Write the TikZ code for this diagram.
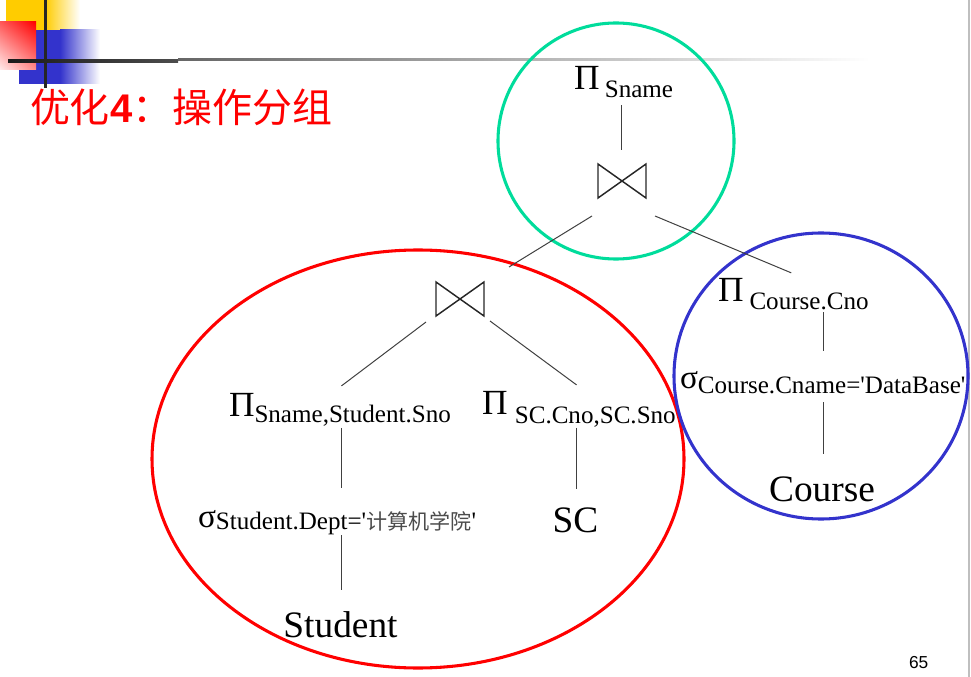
\documentclass[tikz,border=0pt]{standalone}
\usepackage{fontspec}
\setmainfont{Liberation Serif}
\newfontfamily\cjk{Noto Sans CJK SC}
\newfontfamily\sansf{Liberation Sans}
\usetikzlibrary{calc,shadings}
\definecolor{ringgreen}{RGB}{0,220,155}
\definecolor{ringblue}{RGB}{51,51,204}
\definecolor{decoyellow}{RGB}{255,204,0}
\definecolor{decoblue}{RGB}{51,51,204}
\newcommand{\myPi}{{\fontsize{26.5pt}{26.5pt}\selectfont Π}}
\newcommand{\mySig}{{\fontsize{25pt}{25pt}\selectfont σ}}
\newcommand{\mysubtxt}[2]{\raisebox{-#1}{\fontsize{18.8pt}{18.8pt}\selectfont #2}}
\newcommand{\q}{\textquotesingle}
\begin{document}
\begin{tikzpicture}[x=0.75pt,y=-0.75pt,
  lbl/.style={inner sep=0pt, outer sep=0pt, anchor=base west},
  big/.style={inner sep=0pt, outer sep=0pt, anchor=base, font=\fontsize{28pt}{28pt}\selectfont},
  edge/.style={draw=black!75, line width=0.75pt},
  joinbox/.style={minimum width=36pt, minimum height=25.5pt, inner sep=0pt, outer sep=0pt},
  bowline/.style={draw=black!85, line width=1.1pt, line join=miter},
  ring/.style={line width=2.3pt}]
\useasboundingbox (0,0) rectangle (971,677);
% slide decoration
\fill[decoyellow] (6,0) rectangle (45,30);
\shade[left color=decoyellow, right color=white] (45,0) rectangle (80,30);
\fill[decoblue] (19,30) rectangle (60,84);
\shade[left color=decoblue, right color=white] (60,30) rectangle (100,84);
\shade[upper right=red, upper left=red!65, lower right=red!45, lower left=red!8] (0,22) rectangle (36,70);
\fill[black!85] (44,0) rectangle (47,88);
\shade[left color=black!90, right color=black!70] (8,59.5) rectangle (178,62.5);
\shade[left color=black!60, right color=white] (178,59) rectangle (870,60.3);
\fill[black!25] (968,0) rectangle (969.5,677);
% title
\node[lbl, text=red] (title) at (30,123) {\fontsize{30pt}{30pt}\selectfont\cjk 优化{\sansf\bfseries 4}：操作分组};
% groups
\draw[ring, ringgreen] (616,141) circle [radius=118];
\draw[ring, red] (418,459) ellipse [x radius=266, y radius=209];
\draw[ring, ringblue] (821,376) ellipse [x radius=147, y radius=143];
% tree nodes
\node[lbl] (pisname) at (574,90) {\myPi\hspace{4pt}\mysubtxt{6pt}{Sname}};
\node[joinbox] (j1) at (622,181) {};
\node[joinbox] (j2) at (460,299) {};
\node[lbl] (pileft) at (229,416) {\myPi\mysubtxt{4.5pt}{Sname,Student.Sno}};
\node[lbl] (sigleft) at (198,527) {\mySig\mysubtxt{1.5pt}{Student.Dept=\q{\cjk\fontsize{15.8pt}{15.8pt}\selectfont\color{black!70}计算机学院}\q}};
\node[big] (student) at (340.5,637) {Student};
\node[lbl] (pisc) at (482,414) {\myPi\hspace{5.5pt}\mysubtxt{6.75pt}{SC.Cno,SC.Sno}};
\node[big] (sc) at (575.5,532) {SC};
\node[lbl] (picourse) at (718,301) {\myPi\hspace{4.5pt}\mysubtxt{6pt}{Course.Cno}};
\node[lbl] (sigcourse) at (680,388) {\mySig\mysubtxt{3.75pt}{Course.Cname=\q DataBase\q}};
\node[big] (course) at (822,501) {Course};
\node[lbl, font=\sansf\fontsize{13pt}{13pt}\selectfont] (page) at (909,668) {65};
% join symbols
\draw[bowline] (j1.north west) -- (j1.south west) -- (j1.north east) -- (j1.south east) -- cycle;
\draw[bowline] (j2.north west) -- (j2.south west) -- (j2.north east) -- (j2.south east) -- cycle;
% connectors
\draw[edge] ($(j1.north |- pisname.south)+(-1,7)$) -- ($(j1.north)+(-1,-14)$);
\draw[edge] ($(j1.south west)+(-6,18)$) -- ($(j2.north east)+(25,-15)$);
\draw[edge] ($(j1.south east)+(9,18)$) -- ($(picourse.north)+(-2,-5)$);
\draw[edge] ($(j2.south west)+(-10,6)$) -- ($(pileft.north -| student.north)+(1,-7)$);
\draw[edge] ($(j2.south east)+(6,5)$) -- ($(pisc.north -| sc.north)+(1,-6)$);
\draw[edge] ($(pileft.south -| student.north)+(0.5,2)$) -- ($(sigleft.north -| student.north)+(0.5,-22)$);
\draw[edge] ($(sigleft.south -| student.north)+(0.5,1)$) -- ($(student.north)+(0.5,-21)$);
\draw[edge] ($(pisc.south -| sc.north)+(1,1)$) -- ($(sc.north)+(1,-18)$);
\draw[edge] ($(picourse.south -| course.north)+(1,3)$) -- ($(sigcourse.north -| course.north)+(1,-20)$);
\draw[edge] ($(sigcourse.south -| course.north)+(1,9)$) -- ($(course.north)+(1,-22)$);
\end{tikzpicture}
\end{document}
